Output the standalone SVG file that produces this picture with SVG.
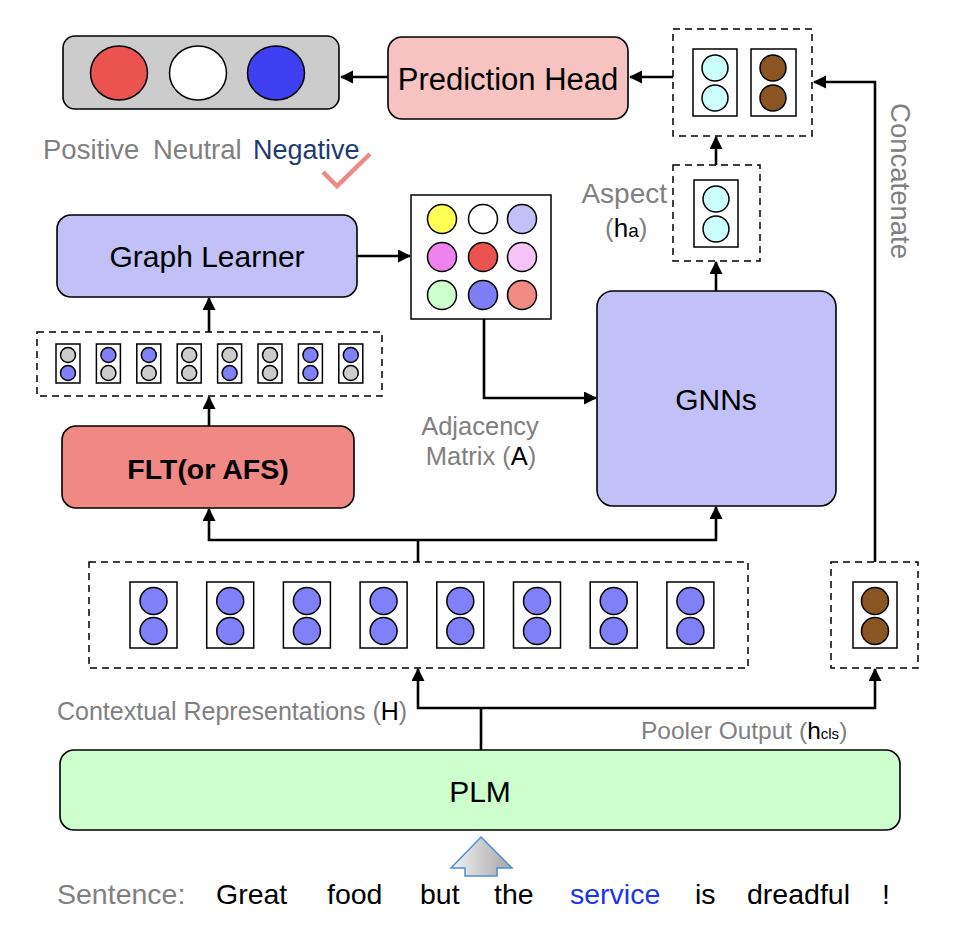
<svg xmlns="http://www.w3.org/2000/svg" width="958" height="936" viewBox="0 0 958 936">
<style>
  text { font-family: "Liberation Sans", Arial, Helvetica, sans-serif; }
  .box { stroke: #000; stroke-width: 1.6; }
  .dash { fill: none; stroke: #000; stroke-width: 1.5; stroke-dasharray: 7 5; }
  .cell { fill: #fff; stroke: #000; stroke-width: 1.5; }
  .dot { stroke: #000; stroke-width: 1.5; }
  .conn { fill: none; stroke: #000; stroke-width: 2.6; }
  .arr { marker-end: url(#ah); }
  .big { fill: #000; text-anchor: middle; }
  .gray { fill: #808080; }
  .blk { fill: #000; }
  .blue { fill: #8080F8; }
  .grey { fill: #CCCCCC; }
  .cyan { fill: #CCFFFF; }
  .brown { fill: #8B5523; }
</style>
<defs>
  <marker id="ah" markerUnits="userSpaceOnUse" markerWidth="14" markerHeight="14" refX="12" refY="6.5" orient="auto">
    <path d="M0,0 L13,6.5 L0,13 Z" fill="#000"/>
  </marker>
  <linearGradient id="grad" x1="0" y1="0" x2="1" y2="0">
    <stop offset="0" stop-color="#F2F2F2"/>
    <stop offset="1" stop-color="#A6A6A6"/>
  </linearGradient>
</defs>

<rect width="958" height="936" fill="#fff"/>

<!-- Sentiment output -->
<g id="sentiment-output">
  <rect x="63" y="36" width="276" height="73" rx="12" fill="#CCCCCC" class="box"/>
  <ellipse cx="119" cy="73" rx="28.5" ry="27" fill="#EA5350" class="dot"/>
  <ellipse cx="198" cy="73" rx="28.5" ry="27" fill="#FFFFFF" class="dot"/>
  <ellipse cx="276" cy="73" rx="28.5" ry="27" fill="#3F3FF2" class="dot"/>
</g>
<g id="sentiment-labels">
  <text x="43" y="159" font-size="27.5" class="gray">Positive</text>
  <text x="153" y="159" font-size="27.5" class="gray">Neutral</text>
  <text x="253" y="159" font-size="27" fill="#1F3A73">Negative</text>
  <polyline points="323,172 337,186 370,154" fill="none" stroke="#EE8A85" stroke-width="4.5"/>
</g>

<!-- Prediction head -->
<g id="prediction-head">
  <rect x="388" y="37" width="240" height="82" rx="14" fill="#F6C3C1" class="box"/>
  <text x="508" y="90" class="big" font-size="31">Prediction Head</text>
</g>

<!-- Concatenated vector -->
<g id="concat-vector">
  <rect x="673" y="29" width="139" height="107" class="dash"/>
  <rect x="693" y="49" width="44" height="67" class="cell"/>
  <circle cx="715" cy="68" r="13" class="dot cyan"/>
  <circle cx="715" cy="98" r="13" class="dot cyan"/>
  <rect x="751" y="49" width="45" height="67" class="cell"/>
  <circle cx="773" cy="68" r="13" class="dot brown"/>
  <circle cx="773" cy="98" r="13" class="dot brown"/>
</g>
<text transform="translate(891,181) rotate(90)" font-size="27.5" class="gray" text-anchor="middle">Concatenate</text>

<!-- Aspect vector -->
<g id="aspect-vector">
  <rect x="673" y="165" width="87" height="96" class="dash"/>
  <rect x="694" y="180" width="44" height="67" class="cell"/>
  <circle cx="716" cy="199" r="13" class="dot cyan"/>
  <circle cx="716" cy="229" r="13" class="dot cyan"/>
  <text x="667" y="203" font-size="28" class="gray" text-anchor="end">Aspect</text>
  <text x="605" y="237" font-size="26" class="gray">(<tspan class="blk">h</tspan><tspan class="blk" font-size="19">a</tspan>)</text>
</g>

<!-- Graph Learner -->
<g id="graph-learner">
  <rect x="57" y="215" width="300" height="82" rx="14" fill="#C1C1F8" class="box"/>
  <text x="207" y="267" class="big" font-size="30">Graph Learner</text>
</g>

<!-- Adjacency matrix -->
<g id="adjacency-matrix">
  <rect x="411" y="195" width="140" height="124" class="cell"/>
  <circle cx="442" cy="219" r="14.5" fill="#FFFF55" class="dot"/>
  <circle cx="483" cy="219" r="14.5" fill="#FFFFFF" class="dot"/>
  <circle cx="522" cy="219" r="14.5" fill="#C1C1F8" class="dot"/>
  <circle cx="442" cy="257" r="14.5" fill="#EE82EE" class="dot"/>
  <circle cx="483" cy="257" r="14.5" fill="#EA5350" class="dot"/>
  <circle cx="522" cy="257" r="14.5" fill="#F5C3F5" class="dot"/>
  <circle cx="442" cy="295" r="14.5" fill="#CCFFCC" class="dot"/>
  <circle cx="483" cy="295" r="14.5" fill="#7F7FF5" class="dot"/>
  <circle cx="522" cy="295" r="14.5" fill="#F08A82" class="dot"/>
  <text x="480" y="435" font-size="25.5" class="gray" text-anchor="middle">Adjacency</text>
  <text x="481" y="465" font-size="25.5" class="gray" text-anchor="middle">Matrix (<tspan class="blk">A</tspan>)</text>
</g>

<!-- GNNs -->
<g id="gnns">
  <rect x="597" y="291" width="239" height="215" rx="16" fill="#C1C1F8" class="box"/>
  <text x="716" y="410" class="big" font-size="30">GNNs</text>
</g>

<!-- Node features (small vectors) -->
<g id="node-features">
  <rect x="37" y="332" width="345" height="64" class="dash"/>
  <rect x="56" y="344" width="24" height="39" class="cell"/>
  <circle cx="68" cy="355" r="7.5" class="dot grey"/><circle cx="68" cy="373" r="7.5" class="dot blue"/>
  <rect x="96.4" y="344" width="24" height="39" class="cell"/>
  <circle cx="108.4" cy="355" r="7.5" class="dot blue"/><circle cx="108.4" cy="373" r="7.5" class="dot grey"/>
  <rect x="136.8" y="344" width="24" height="39" class="cell"/>
  <circle cx="148.8" cy="355" r="7.5" class="dot blue"/><circle cx="148.8" cy="373" r="7.5" class="dot grey"/>
  <rect x="177.2" y="344" width="24" height="39" class="cell"/>
  <circle cx="189.2" cy="355" r="7.5" class="dot grey"/><circle cx="189.2" cy="373" r="7.5" class="dot grey"/>
  <rect x="217.6" y="344" width="24" height="39" class="cell"/>
  <circle cx="229.6" cy="355" r="7.5" class="dot grey"/><circle cx="229.6" cy="373" r="7.5" class="dot blue"/>
  <rect x="258" y="344" width="24" height="39" class="cell"/>
  <circle cx="270" cy="355" r="7.5" class="dot grey"/><circle cx="270" cy="373" r="7.5" class="dot grey"/>
  <rect x="298.4" y="344" width="24" height="39" class="cell"/>
  <circle cx="310.4" cy="355" r="7.5" class="dot blue"/><circle cx="310.4" cy="373" r="7.5" class="dot blue"/>
  <rect x="338.8" y="344" width="24" height="39" class="cell"/>
  <circle cx="350.8" cy="355" r="7.5" class="dot blue"/><circle cx="350.8" cy="373" r="7.5" class="dot grey"/>
</g>

<!-- FLT -->
<g id="flt">
  <rect x="62" y="426" width="292" height="82" rx="14" fill="#F08884" class="box"/>
  <text x="208" y="479" class="big" font-size="28.5" font-weight="bold">FLT(or AFS)</text>
</g>

<!-- Contextual representations -->
<g id="contextual-reps">
  <rect x="89" y="562" width="659" height="106" class="dash"/>
  <rect x="130" y="582" width="47" height="66" class="cell"/>
  <circle cx="153.5" cy="601" r="13.5" class="dot blue"/><circle cx="153.5" cy="631" r="13.5" class="dot blue"/>
  <rect x="206.7" y="582" width="47" height="66" class="cell"/>
  <circle cx="230.2" cy="601" r="13.5" class="dot blue"/><circle cx="230.2" cy="631" r="13.5" class="dot blue"/>
  <rect x="283.4" y="582" width="47" height="66" class="cell"/>
  <circle cx="306.9" cy="601" r="13.5" class="dot blue"/><circle cx="306.9" cy="631" r="13.5" class="dot blue"/>
  <rect x="360.1" y="582" width="47" height="66" class="cell"/>
  <circle cx="383.6" cy="601" r="13.5" class="dot blue"/><circle cx="383.6" cy="631" r="13.5" class="dot blue"/>
  <rect x="436.8" y="582" width="47" height="66" class="cell"/>
  <circle cx="460.3" cy="601" r="13.5" class="dot blue"/><circle cx="460.3" cy="631" r="13.5" class="dot blue"/>
  <rect x="513.5" y="582" width="47" height="66" class="cell"/>
  <circle cx="537" cy="601" r="13.5" class="dot blue"/><circle cx="537" cy="631" r="13.5" class="dot blue"/>
  <rect x="590.2" y="582" width="47" height="66" class="cell"/>
  <circle cx="613.7" cy="601" r="13.5" class="dot blue"/><circle cx="613.7" cy="631" r="13.5" class="dot blue"/>
  <rect x="666.9" y="582" width="47" height="66" class="cell"/>
  <circle cx="690.4" cy="601" r="13.5" class="dot blue"/><circle cx="690.4" cy="631" r="13.5" class="dot blue"/>
  <text x="57" y="720" font-size="25" class="gray">Contextual Representations (<tspan class="blk">H</tspan>)</text>
</g>

<!-- Pooler output -->
<g id="pooler-output">
  <rect x="831" y="562" width="87" height="106" class="dash"/>
  <rect x="853" y="582" width="44" height="66" class="cell"/>
  <circle cx="875" cy="601" r="13.5" class="dot brown"/>
  <circle cx="875" cy="631" r="13.5" class="dot brown"/>
  <text x="641" y="739" font-size="24.5" class="gray">Pooler Output (<tspan class="blk">h</tspan><tspan class="blk" font-size="15">cls</tspan>)</text>
</g>

<!-- PLM -->
<g id="plm">
  <rect x="60" y="750" width="840" height="80" rx="14" fill="#CCFFCC" class="box"/>
  <text x="480" y="802" class="big" font-size="30">PLM</text>
</g>

<!-- Sentence input -->
<g id="sentence">
  <polygon points="481,837 512,868 497,868 497,876 465,876 465,868 451,868" fill="url(#grad)" stroke="#4A90D9" stroke-width="1.5"/>
  <text y="904" font-size="28.5">
    <tspan x="57" class="gray">Sentence:</tspan>
    <tspan x="216" class="blk">Great</tspan>
    <tspan x="327" class="blk">food</tspan>
    <tspan x="420" class="blk">but</tspan>
    <tspan x="494" class="blk">the</tspan>
    <tspan x="570" fill="#1A35F0">service</tspan>
    <tspan x="695" class="blk">is</tspan>
    <tspan x="747" class="blk">dreadful</tspan>
    <tspan x="882" class="blk">!</tspan>
  </text>
</g>

<!-- Connectors -->
<g id="connectors">
  <line x1="388" y1="77" x2="341" y2="77" class="conn arr"/>
  <line x1="673" y1="77" x2="630" y2="77" class="conn arr"/>
  <line x1="716" y1="165" x2="716" y2="137" class="conn arr"/>
  <line x1="716" y1="291" x2="716" y2="262" class="conn arr"/>
  <polyline points="875,562 875,82 814,82" class="conn arr"/>
  <line x1="357" y1="256" x2="410" y2="256" class="conn arr"/>
  <polyline points="484,319 484,398 596,398" class="conn arr"/>
  <line x1="209" y1="332" x2="209" y2="298" class="conn arr"/>
  <line x1="209" y1="426" x2="209" y2="397" class="conn arr"/>
  <line x1="418" y1="562" x2="418" y2="540" class="conn"/>
  <polyline points="418,540 209,540 209,509" class="conn arr"/>
  <polyline points="418,540 716,540 716,507" class="conn arr"/>
  <line x1="481" y1="750" x2="481" y2="708" class="conn"/>
  <polyline points="481,708 418,708 418,669" class="conn arr"/>
  <polyline points="481,708 875,708 875,669" class="conn arr"/>
</g>
</svg>
